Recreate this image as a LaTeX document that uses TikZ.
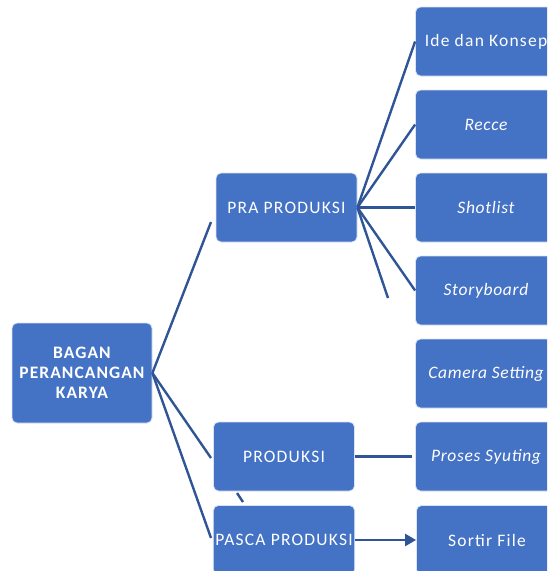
\documentclass[tikz,border=0pt]{standalone}
\usepackage{fontspec}
\setmainfont{Carlito}
\usetikzlibrary{positioning, arrows.meta}
\definecolor{boxblue}{RGB}{68,114,196}
\definecolor{lineblue}{RGB}{47,85,151}

\tikzset{
  stage/.style={draw=white!80!boxblue, line width=0.8pt, fill=boxblue,
    rounded corners=5pt, text=white, align=center,
    minimum width=141pt, minimum height=69pt, inner sep=2pt,
    font=\fontsize{17.5}{20}\selectfont\addfontfeatures{LetterSpace=7}},
  slanted/.style={font=\fontsize{17.5}{20}\selectfont\itshape\addfontfeatures{LetterSpace=4}},
  link/.style={draw=lineblue, line width=2.4pt}
}

\begin{document}
\begin{tikzpicture}[x=1pt,y=-1pt]
    \useasboundingbox (0,0) rectangle (547,571);
    \clip (0,0) rectangle (547,571);
    % main box
    \node[stage, minimum width=140pt, minimum height=100pt, inner sep=0pt,
          font=\fontsize{17.5}{20}\selectfont\bfseries\addfontfeatures{LetterSpace=6}] (bagan) at (82,373) {BAGAN\\PERANCANGAN\\KARYA};
    % stages
    \node[stage] (pra) at (286.5,207.5) {PRA PRODUKSI};
    \node[stage] (produksi) at (284,456.5) {PRODUKSI};
    \node[stage] (pasca) at (284,540) {PASCA PRODUKSI};
    % details
    \node[stage] (ide) at (486,41.5) {Ide dan Konsep};
    \node[stage, slanted] (recce) at (486,124.5) {Recce};
    \node[stage, slanted] (shotlist) at (486,207.5) {Shotlist};
    \node[stage, slanted] (storyboard) at (486,290.5) {Storyboard};
    \node[stage, slanted] (camera) at (486,373.5) {Camera Setting};
    \node[stage, slanted] (proses) at (486,456.5) {Proses Syuting};
    \node[stage] (sortir) at (487,540) {Sortir File};
    % free ends
    \coordinate (toPra) at (211,222);
    \coordinate (toProduksi) at (211,458);
    \coordinate (toPasca) at (211,538);
    \coordinate (toCamera) at (388,298);
    \coordinate (stubA) at (237,493);
    \coordinate (stubB) at (243,502);
    % connectors
    \draw[link] (bagan.east) -- (toPra);
    \draw[link] (bagan.east) -- (toProduksi);
    \draw[link] (bagan.east) -- (toPasca);
    \draw[link] (stubA) -- (stubB);
    \draw[link] (pra.east) -- (ide.west);
    \draw[link] (pra.east) -- (recce.west);
    \draw[link] (pra.east) -- (shotlist.west);
    \draw[link] (pra.east) -- (storyboard.west);
    \draw[link] (pra.east) -- (toCamera);
    \draw[link, shorten >=3pt] (produksi.east) -- (proses.west);
    \draw[link, -{Triangle[length=11pt,width=12pt]}] (pasca.east) -- (sortir.west);
\end{tikzpicture}
\end{document}
